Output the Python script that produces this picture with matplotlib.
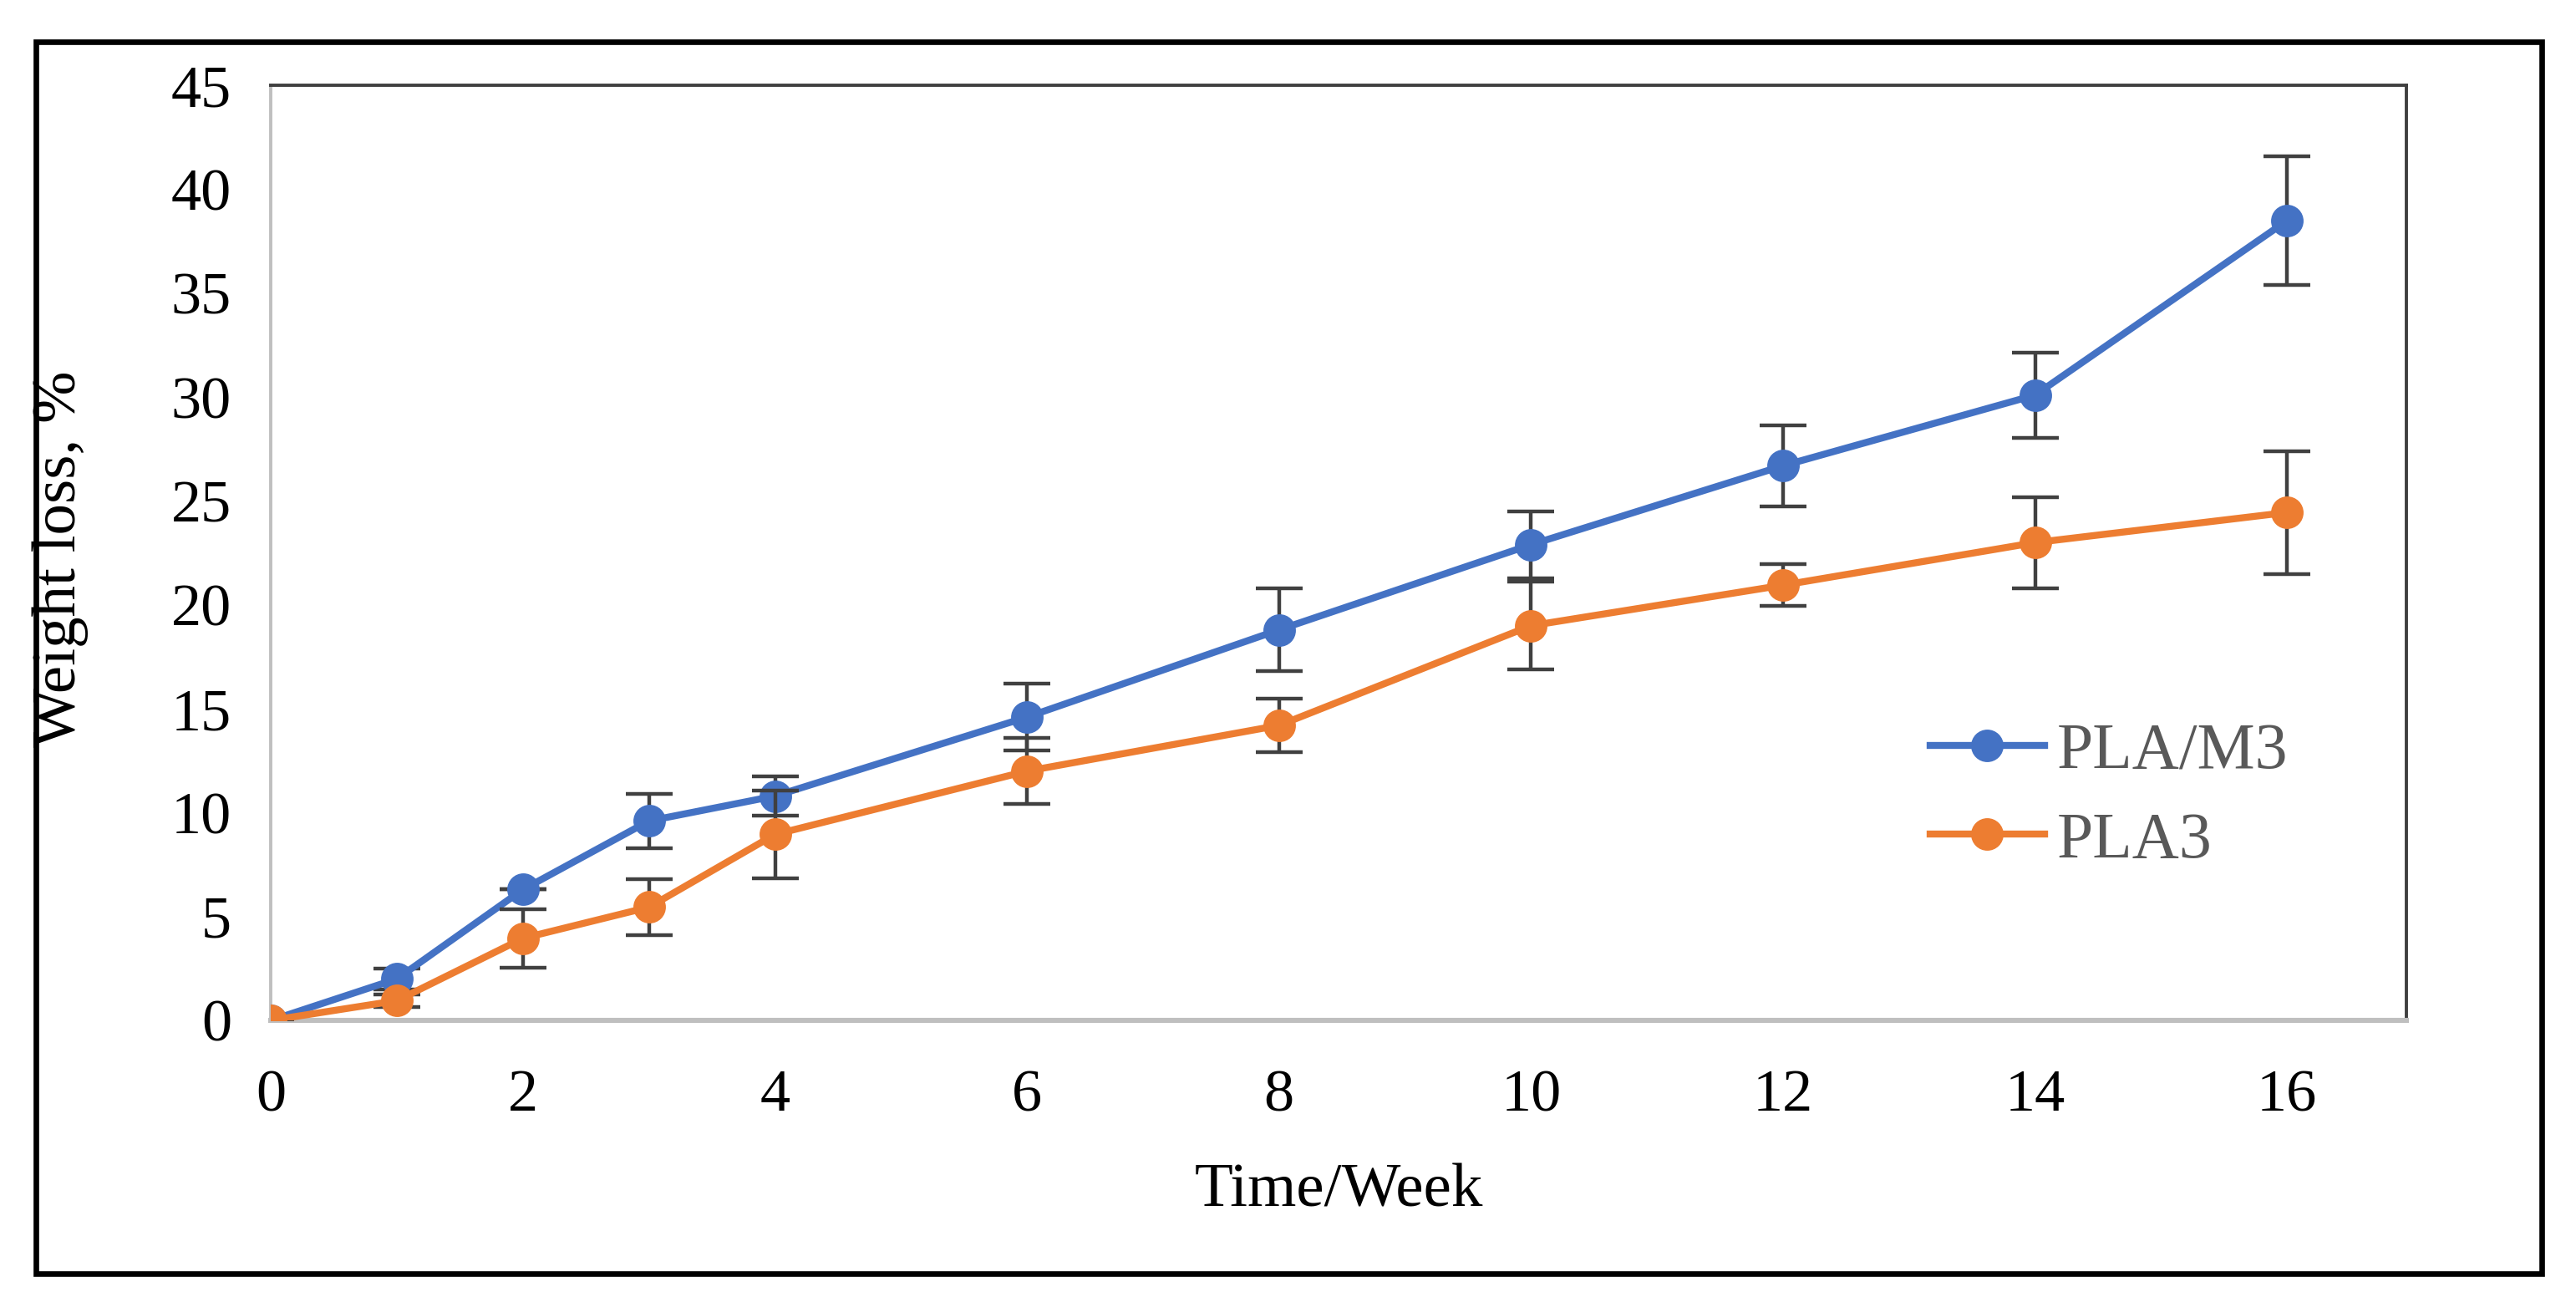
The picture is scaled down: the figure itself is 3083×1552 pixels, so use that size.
import matplotlib
matplotlib.use('Agg')
import matplotlib.pyplot as plt
from matplotlib.patches import Rectangle

plt.rcParams['font.family'] = ['Liberation Serif', 'DejaVu Serif']

# data
weeks = [0, 1, 2, 3, 4, 6, 8, 10, 12, 14, 16]
pla_m3 = [0, 2.0, 6.3, 9.6, 10.8, 14.6, 18.8, 22.9, 26.7, 30.1, 38.5]
pla_m3_err = [0, 0.5, 0.0, 1.3, 0.95, 1.6, 2.0, 1.6, 1.95, 2.05, 3.1]
pla3 = [0, 0.95, 3.95, 5.45, 8.95, 12.0, 14.2, 19.0, 20.95, 23.0, 24.45]
pla3_err = [0, 0.3, 1.4, 1.35, 2.1, 1.6, 1.3, 2.1, 1.0, 2.2, 2.95]
xticks = [0, 2, 4, 6, 8, 10, 12, 14, 16]
yticks = [0, 5, 10, 15, 20, 25, 30, 35, 40, 45]

blue = '#4472C4'
orange = '#ED7D31'
errc = '#404040'

fig = plt.figure(figsize=(15.415, 7.76), dpi=200)
ax = fig.add_axes([0.1052, 0.2133, 0.8291, 0.7207])

ax.errorbar(weeks, pla_m3, yerr=pla_m3_err, color=blue, lw=3, marker='o', ms=13,
            ecolor=errc, elinewidth=1.6, capsize=10, capthick=1.6, label='PLA/M3', zorder=3)
ax.errorbar(weeks, pla3, yerr=pla3_err, color=orange, lw=3, marker='o', ms=13,
            ecolor=errc, elinewidth=1.6, capsize=10, capthick=1.6, label='PLA3', zorder=4)

ax.set_xlim(0, 16.95)
ax.set_ylim(0, 45)
ax.set_xticks(xticks)
ax.set_yticks(yticks)
ax.tick_params(length=0, labelsize=26, labelcolor='black')
ax.tick_params(axis='y', pad=17)
ax.tick_params(axis='x', pad=21)

for s in ['top', 'right']:
    ax.spines[s].set_color('#404040')
    ax.spines[s].set_linewidth(1.4)
ax.spines['left'].set_color('#BFBFBF')
ax.spines['left'].set_linewidth(1.4)
ax.spines['bottom'].set_color('#BFBFBF')
ax.spines['bottom'].set_linewidth(2.2)
for s in ax.spines.values():
    s.set_zorder(1)

ax.set_xlabel('Time/Week', fontsize=27, color='black')
ax.xaxis.set_label_coords(0.5, -0.183)
ax.xaxis.label.set_va('center')
ax.set_ylabel('Weight loss, %', fontsize=27, color='black')
ax.yaxis.set_label_coords(-0.0985, 0.494)
ax.yaxis.label.set_va('center')

hdl, lbl = ax.get_legend_handles_labels()
hdl = [h[0] for h in hdl]
leg = ax.legend(hdl, lbl, loc='center left', bbox_to_anchor=(0.777, 0.239), frameon=False,
                fontsize=28, borderpad=0, borderaxespad=0, handlelength=1.75,
                handletextpad=0.2, labelspacing=0.45, labelcolor='#595959')

fig.patches.append(Rectangle((0.014, 0.018), 0.9726, 0.95, transform=fig.transFigure,
                             fill=False, edgecolor='black', lw=2.4, zorder=10))

fig.savefig('out.png', dpi=200)
